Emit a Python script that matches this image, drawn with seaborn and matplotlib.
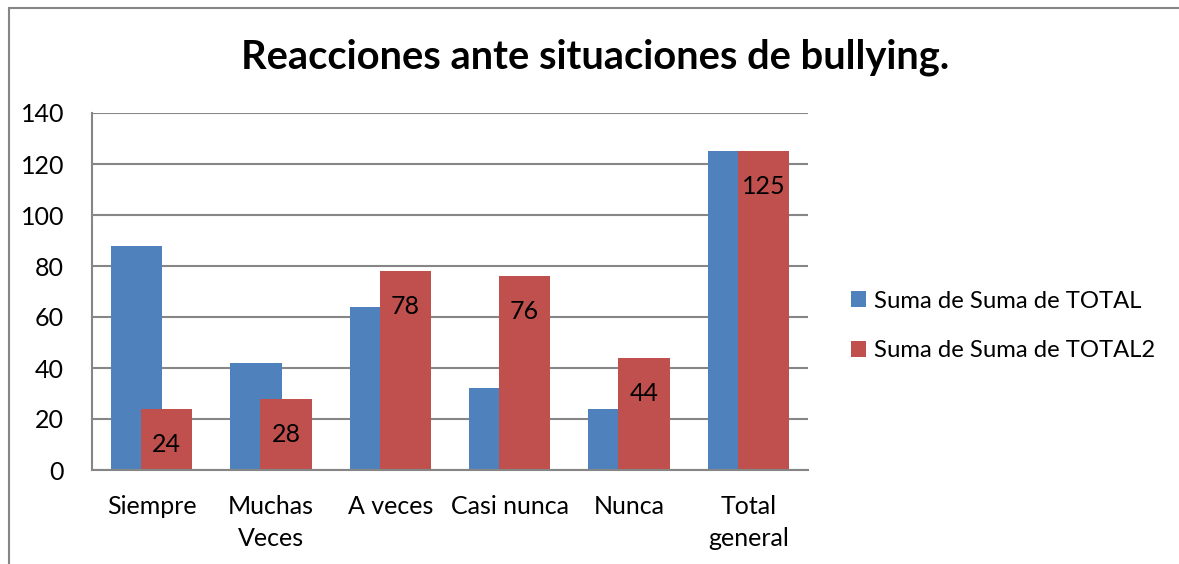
import matplotlib
matplotlib.use("Agg")
import matplotlib.pyplot as plt
import seaborn as sns
import pandas as pd
from matplotlib.patches import Rectangle

categories = ["Siempre", "Muchas\nVeces", "A veces", "Casi nunca", "Nunca", "Total\ngeneral"]
series_names = ["Suma de Suma de TOTAL", "Suma de Suma de TOTAL2"]
total = [88, 42, 64, 32, 24, 125]
total2 = [24, 28, 78, 76, 44, 125]
yticks = [0, 20, 40, 60, 80, 100, 120, 140]
title = "Reacciones ante situaciones de bullying."
colors = ["#4F81BD", "#C0504D"]

df = pd.DataFrame({
    "cat": categories * 2,
    "val": total + total2,
    "series": [series_names[0]] * len(categories) + [series_names[1]] * len(categories),
})

sns.set_theme(style="white")
plt.rcParams["font.family"] = ["Lato", "DejaVu Sans"]
plt.rcParams["text.color"] = "black"
plt.rcParams["xtick.color"] = "black"
plt.rcParams["ytick.color"] = "black"

fig = plt.figure(figsize=(11.79, 5.64), dpi=100)
ax = fig.add_axes([92 / 1179, 1 - 470 / 564, 716 / 1179, 357 / 564])

sns.barplot(data=df, x="cat", y="val", hue="series", palette=colors,
            width=0.503, gap=-0.70, ax=ax, saturation=1, linewidth=0,
            legend=True)

ax.set_xlim(-0.5, len(categories) - 0.5)
ax.set_ylim(0, 140)
ax.set_yticks(yticks)
ax.set_yticklabels([str(t) for t in yticks], fontsize=18)
ax.tick_params(axis="x", labelsize=18, length=0, pad=18, labelcolor="black")
ax.tick_params(axis="y", length=0, pad=20, labelcolor="black")
ax.set_xlabel("")
ax.set_ylabel("")
ax.yaxis.grid(True, color="#868686", linewidth=1.5)
ax.set_axisbelow(True)
for s in ["top", "right"]:
    ax.spines[s].set_visible(False)
for s in ["left", "bottom"]:
    ax.spines[s].set_color("#868686")
    ax.spines[s].set_linewidth(1.5)
for lab in ax.get_xticklabels():
    lab.set_linespacing(1.5)

# data labels for second series (inside end)
cont = ax.containers[1]
ax.bar_label(cont, labels=[str(v) for v in total2], label_type="edge",
             padding=-34, fontsize=18, color="black")

leg = ax.legend(loc="center left", bbox_to_anchor=(829 / 1179, 1 - 326 / 564),
                bbox_transform=fig.transFigure, frameon=False, fontsize=17.2,
                handlelength=0.65, handleheight=0.65, handletextpad=0.35,
                labelspacing=1.2)
for t in leg.get_texts():
    t.set_color("black")

fig.suptitle(title, x=595 / 1179, y=1 - 57 / 564, va="center",
             fontsize=28.7, fontweight="bold", color="black")

fig.patches.append(Rectangle((9 / 1179, -0.1), 1.2, 1 - 8 / 564 + 0.1,
                             transform=fig.transFigure, fill=False,
                             edgecolor="#868686", linewidth=1.5))

fig.savefig("out.png", dpi=100)
